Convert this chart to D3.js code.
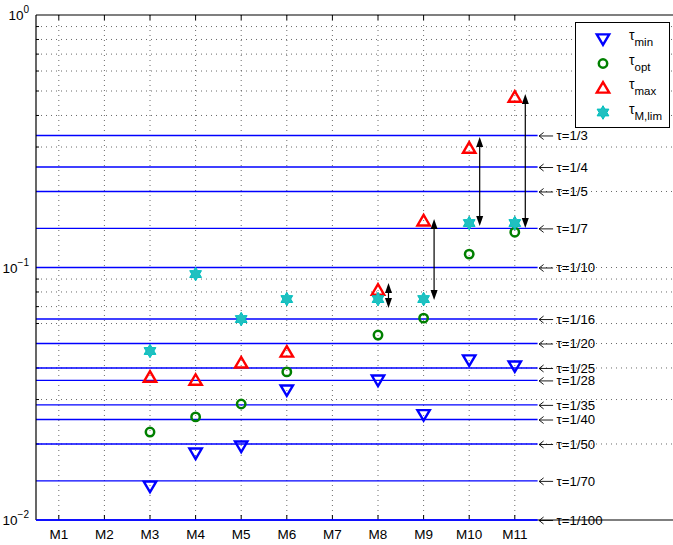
<!DOCTYPE html>
<html><head><meta charset="utf-8">
<script src="https://cdn.jsdelivr.net/npm/d3@7"></script>
<style>body{margin:0;background:#fff}svg{display:block;font-family:"Liberation Sans",Arial,sans-serif}</style>
</head><body><svg id="c" width="673" height="545"></svg>
<script>
const categories = ["M1","M2","M3","M4","M5","M6","M7","M8","M9","M10","M11"];
const tauMin  = [null,null,0.0136,0.0184,0.0196,0.0327,null,0.0358,0.0261,0.0430,0.0407];
const tauOpt  = [null,null,0.0223,0.0256,0.0288,0.0386,null,0.0540,0.0630,0.1130,0.1380];
const tauMax  = [null,null,0.0368,0.0358,0.0419,0.0463,null,0.0814,0.1530,0.2970,0.4730];
const tauMlim = [null,null,0.0467,0.0942,0.0625,0.0750,null,0.0750,0.0750,0.1500,0.1500];
const arrowTop    = [null,null,null,null,null,null,null,0.0868,0.1556,0.3287,0.4866];
const arrowBottom = [null,null,null,null,null,null,null,0.0691,0.0743,0.1460,0.1434];
const refDenoms = [3,4,5,7,10,16,20,25,28,35,40,50,70,100];
const yTickExps = [0,-1,-2];

const svg = d3.select("#c");
const x = d3.scaleLinear().domain([0.5,14.5]).range([36,674.4]);
const y = d3.scaleLog().domain([0.01,1]).range([520,15]);
const L=36,T=15,B=520,R=674.4;

// grid
const minor=[];
for (const dec of [0.01,0.1]) for (let k=2;k<=9;k++) minor.push(k*dec);
minor.push(0.1);
const g=svg.append("g");
g.selectAll("line.hg").data(minor).join("line")
 .attr("x1",L).attr("x2",R).attr("y1",d=>y(d)).attr("y2",d=>y(d))
 .attr("stroke","#444").attr("stroke-width",0.8).attr("stroke-dasharray","1,4");
g.selectAll("line.vg").data(categories).join("line")
 .attr("x1",(d,i)=>x(i+1)).attr("x2",(d,i)=>x(i+1)).attr("y1",T).attr("y2",B)
 .attr("stroke","#444").attr("stroke-width",0.8).attr("stroke-dasharray","1,4");

// axis ticks
const ax=svg.append("g").attr("stroke","#000").attr("stroke-width",1);
categories.forEach((c,i)=>{
  ax.append("line").attr("x1",x(i+1)).attr("x2",x(i+1)).attr("y1",B).attr("y2",B-5);
  ax.append("line").attr("x1",x(i+1)).attr("x2",x(i+1)).attr("y1",T).attr("y2",T+5);
});
minor.forEach(v=>{
  const len = Math.abs(Math.log10(v)+1)<1e-9?6:3;
  ax.append("line").attr("x1",L).attr("x2",L+len).attr("y1",y(v)).attr("y2",y(v));
});

// reference lines
const refs = refDenoms.map(d=>({d, v:1/d}));
svg.append("g").selectAll("line").data(refs).join("line")
 .attr("x1",L).attr("x2",x(11.5)).attr("y1",d=>y(d.v)).attr("y2",d=>y(d.v))
 .attr("stroke","#0000FF").attr("stroke-width",1.4);
const ag=svg.append("g").attr("fill","none").attr("stroke","#000").attr("stroke-width",0.9);
refs.forEach(d=>{
  const yy=y(d.v)+0.5, x0=x(11.5)+1.5;
  ag.append("path").attr("d",`M${x0+14},${yy}H${x0}M${x0+4.5},${yy-3.5}L${x0},${yy}L${x0+4.5},${yy+3.5}`);
});
svg.append("g").selectAll("text").data(refs).join("text")
 .attr("x",x(11.5)+19).attr("y",d=>y(d.v)).attr("dy","0.36em")
 .attr("font-size",13.2).attr("fill","#000")
 .text(d=>"\u03c4=1/"+d.d);

// frame
svg.append("line").attr("x1",L).attr("x2",R).attr("y1",T).attr("y2",T).attr("stroke","#000").attr("stroke-width",1.2);
svg.append("line").attr("x1",L).attr("x2",L).attr("y1",T).attr("y2",B).attr("stroke","#000").attr("stroke-width",1.2);
svg.append("line").attr("x1",x(11.5)).attr("x2",R).attr("y1",B).attr("y2",B).attr("stroke","#000").attr("stroke-width",1.2);
svg.append("line").attr("x1",L).attr("x2",x(11.5)).attr("y1",B).attr("y2",B).attr("stroke","#0000FF").attr("stroke-width",1.4);

// x labels
svg.append("g").selectAll("text").data(categories).join("text")
 .attr("x",(d,i)=>x(i+1)).attr("y",539).attr("text-anchor","middle")
 .attr("font-size",13.5).text(d=>d);
// y labels
yTickExps.forEach(e=>{
  const t=svg.append("text").attr("x",29).attr("y",y(Math.pow(10,e))+5).attr("text-anchor","end").attr("font-size",13.5);
  t.append("tspan").text("10");
  t.append("tspan").attr("dy",-7).attr("font-size",10).text(e===0?"0":"\u2212"+(-e));
});

// arrows
const arr=svg.append("g");
categories.forEach((c,i)=>{
  if(arrowTop[i]==null) return;
  const xx=x(i+1+0.23), y1=y(arrowTop[i]), y2=y(arrowBottom[i]);
  arr.append("line").attr("x1",xx).attr("x2",xx).attr("y1",y1+8).attr("y2",y2-8).attr("stroke","#000").attr("stroke-width",1.2);
  arr.append("path").attr("d",`M${xx},${y1}L${xx-3.5},${y1+10}L${xx+3.5},${y1+10}Z`).attr("fill","#000");
  arr.append("path").attr("d",`M${xx},${y2}L${xx-3.5},${y2-10}L${xx+3.5},${y2-10}Z`).attr("fill","#000");
});

// markers
function triDown(cx,cy,s){return `M${cx-s},${cy-s*0.75}L${cx+s},${cy-s*0.75}L${cx},${cy+s*0.95}Z`;}
function triUp(cx,cy,s){return `M${cx-s},${cy+s*0.75}L${cx+s},${cy+s*0.75}L${cx},${cy-s*0.95}Z`;}
function hexa(cx,cy,R){let p="";const r=R*0.577;for(let k=0;k<12;k++){const a=-Math.PI/2+k*Math.PI/6;const rr=k%2?r:R;p+=(k?"L":"M")+(cx+rr*Math.cos(a))+","+(cy+rr*Math.sin(a));}return p+"Z";}
const series=[
 {name:"min",data:tauMin,draw:(gg,cx,cy)=>gg.append("path").attr("d",triDown(cx,cy,6.2)).attr("fill","none").attr("stroke","#0000FF").attr("stroke-width",2.4)},
 {name:"opt",data:tauOpt,draw:(gg,cx,cy)=>gg.append("circle").attr("cx",cx).attr("cy",cy).attr("r",4.2).attr("fill","none").attr("stroke","#008000").attr("stroke-width",2.5)},
 {name:"max",data:tauMax,draw:(gg,cx,cy)=>gg.append("path").attr("d",triUp(cx,cy,6.2)).attr("fill","none").attr("stroke","#FF0000").attr("stroke-width",2.4)},
 {name:"M,lim",data:tauMlim,draw:(gg,cx,cy)=>gg.append("path").attr("d",hexa(cx,cy,6.8)).attr("fill","#20C0C0").attr("stroke","#00BFBF").attr("stroke-width",1)}
];
const mg=svg.append("g");
series.forEach(s=>{
  s.data.forEach((v,i)=>{ if(v!=null) s.draw(mg,x(i+1),y(v)); });
});

// legend
const lg=svg.append("g");
lg.append("rect").attr("x",575.5).attr("y",22.5).attr("width",94).attr("height",105).attr("fill","#fff").attr("stroke","#000").attr("stroke-width",1);
series.forEach((s,k)=>{
  const cy=39+k*24.5;
  s.draw(lg,603,cy);
  const t=lg.append("text").attr("x",629).attr("y",cy+1).attr("font-size",14);
  t.append("tspan").text("\u03c4");
  t.append("tspan").attr("dy",6).attr("font-size",11.5).text(s.name);
});
</script></body></html>
